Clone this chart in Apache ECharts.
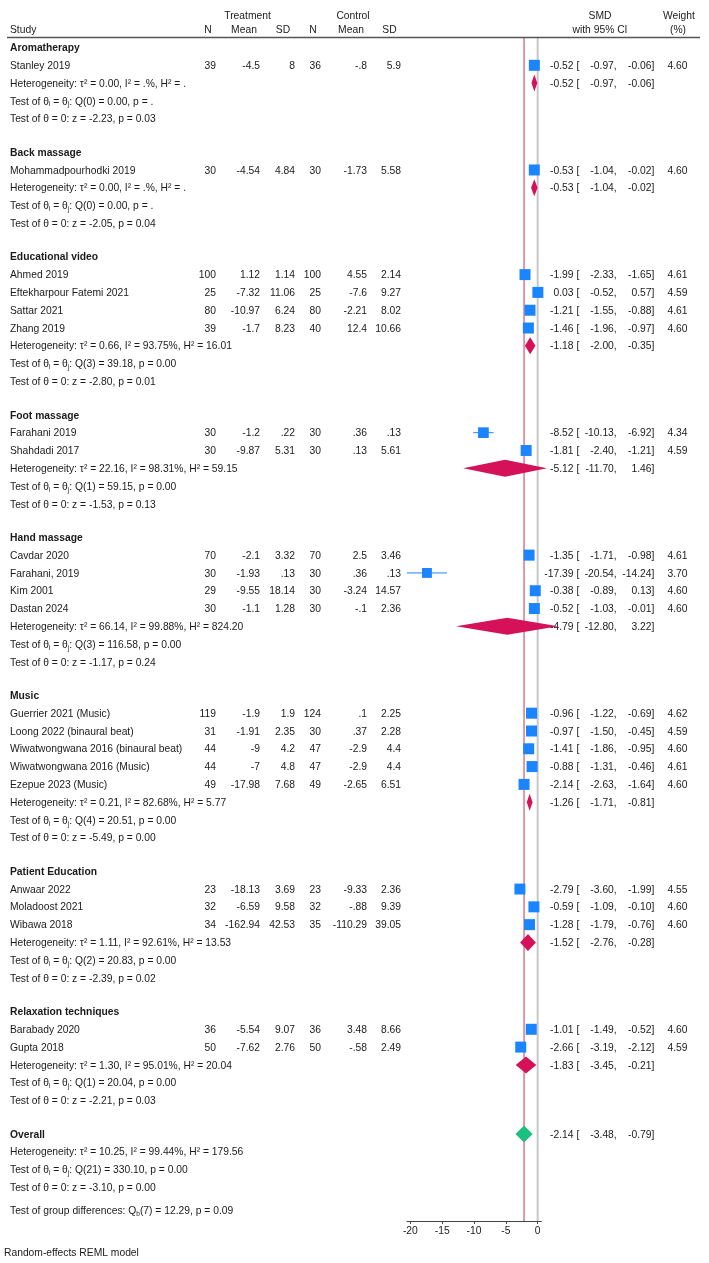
<!DOCTYPE html>
<html><head><meta charset="utf-8">
<script src="https://cdn.jsdelivr.net/npm/echarts@6/dist/echarts.min.js"></script>
<style>html,body{margin:0;padding:0;background:#fff}#c{width:709px;height:1263px}</style>
</head><body><div id="c"></div><script>
// ---------------- data ----------------
const groupNames = ['Aromatherapy','Back massage','Educational video','Foot massage','Hand massage','Music','Patient Education','Relaxation techniques'];
const studyNames = ['Stanley 2019','Mohammadpourhodki 2019','Ahmed 2019','Eftekharpour Fatemi 2021','Sattar 2021','Zhang 2019','Farahani 2019','Shahdadi 2017','Cavdar 2020','Farahani, 2019','Kim 2001','Dastan 2024','Guerrier 2021 (Music)','Loong 2022 (binaural beat)','Wiwatwongwana 2016 (binaural beat)','Wiwatwongwana 2016 (Music)','Ezepue 2023 (Music)','Anwaar 2022','Moladoost 2021','Wibawa 2018','Barabady 2020','Gupta 2018'];
const studyGroup = [0,1,2,2,2,2,3,3,4,4,4,4,5,5,5,5,5,6,6,6,7,7];
const treatN = ['39','30','100','25','80','39','30','30','70','30','29','30','119','31','44','44','49','23','32','34','36','50'];
const treatMean = ['-4.5','-4.54','1.12','-7.32','-10.97','-1.7','-1.2','-9.87','-2.1','-1.93','-9.55','-1.1','-1.9','-1.91','-9','-7','-17.98','-18.13','-6.59','-162.94','-5.54','-7.62'];
const treatSD = ['8','4.84','1.14','11.06','6.24','8.23','.22','5.31','3.32','.13','18.14','1.28','1.9','2.35','4.2','4.8','7.68','3.69','9.58','42.53','9.07','2.76'];
const ctrlN = ['36','30','100','25','80','40','30','30','70','30','30','30','124','30','47','47','49','23','32','35','36','50'];
const ctrlMean = ['-.8','-1.73','4.55','-7.6','-2.21','12.4','.36','.13','2.5','.36','-3.24','-.1','.1','.37','-2.9','-2.9','-2.65','-9.33','-.88','-110.29','3.48','-.58'];
const ctrlSD = ['5.9','5.58','2.14','9.27','8.02','10.66','.13','5.61','3.46','.13','14.57','2.36','2.25','2.28','4.4','4.4','6.51','2.36','9.39','39.05','8.66','2.49'];
const smd = [-0.52,-0.53,-1.99,0.03,-1.21,-1.46,-8.52,-1.81,-1.35,-17.39,-0.38,-0.52,-0.96,-0.97,-1.41,-0.88,-2.14,-2.79,-0.59,-1.28,-1.01,-2.66];
const ciLow = [-0.97,-1.04,-2.33,-0.52,-1.55,-1.96,-10.13,-2.40,-1.71,-20.54,-0.89,-1.03,-1.22,-1.50,-1.86,-1.31,-2.63,-3.60,-1.09,-1.79,-1.49,-3.19];
const ciHigh = [-0.06,-0.02,-1.65,0.57,-0.88,-0.97,-6.92,-1.21,-0.98,-14.24,0.13,-0.01,-0.69,-0.45,-0.95,-0.46,-1.64,-1.99,-0.10,-0.76,-0.52,-2.12];
const weight = [4.60,4.60,4.61,4.59,4.61,4.60,4.34,4.59,4.61,3.70,4.60,4.60,4.62,4.59,4.60,4.61,4.60,4.55,4.60,4.60,4.60,4.59];

const groupSmd = [-0.52,-0.53,-1.18,-5.12,-4.79,-1.26,-1.52,-1.83];
const groupLow = [-0.97,-1.04,-2.00,-11.70,-12.80,-1.71,-2.76,-3.45];
const groupHigh = [-0.06,-0.02,-0.35,1.46,3.22,-0.81,-0.28,-0.21];
const groupTau2 = ['0.00','0.00','0.66','22.16','66.14','0.21','1.11','1.30'];
const groupI2 = ['.','.','93.75','98.31','99.88','82.68','92.61','95.01'];
const groupH2 = ['.','.','16.01','59.15','824.20','5.77','13.53','20.04'];
const groupQdf = [0,0,3,1,3,4,2,1];
const groupQ = ['0.00','0.00','39.18','59.15','116.58','20.51','20.83','20.04'];
const groupQp = ['.','.','0.00','0.00','0.00','0.00','0.00','0.00'];
const groupZ = ['-2.23','-2.05','-2.80','-1.53','-1.17','-5.49','-2.39','-2.21'];
const groupZp = ['0.03','0.04','0.01','0.13','0.24','0.00','0.02','0.03'];

const overallEffect = [-2.14,-3.48,-0.79];
const overallHet = ['10.25','99.44','179.56'];
const overallQ = [21,'330.10','0.00'];
const overallZ = ['-3.10','0.00'];
const groupDiffTest = [7,'12.29','0.09'];
const xTicks = [-20,-15,-10,-5,0];

// ---------------- layout ----------------
const FF = '"Liberation Sans", Arial, Helvetica, sans-serif';
const FS = 10.3;
const TXT = '#1a1a1a';
const BLUE = '#1a85ff', CRIMSON = '#d41159', GREEN = '#1dbf80';
const COL = {study:10, tN:216, tMean:260, tSD:295, cN:321, cMean:367, cSD:401, es:573.5, br:576.5, lo:616.7, hi:654.3, w:687.5};
const ROW = {gap:1.88, diff:1.3, note:2.37, hdr1:-1.83, hdr2:-1.04};
const Y_MIN = -0.562, Y_MAX = 65.93;
const TEXT_DY = 0.8;
const RICH = { sub: {fontSize:6.5, fontFamily:FF, fill:TXT, verticalAlign:'bottom', lineHeight:13} };

function esCells(e,l,h){
  return [{x:COL.es,t:e.toFixed(2),a:'right'},{x:COL.br,t:'[',a:'left'},
          {x:COL.lo,t:l.toFixed(2)+',',a:'right'},{x:COL.hi,t:h.toFixed(2)+']',a:'right'}];
}
const hetTxt = (t,i,h)=>`Heterogeneity: τ² = ${t}, I² = ${i}%, H² = ${h}`;
const qTxt = (df,q,p)=>`Test of θ{sub|i} = θ{sub|j}: Q(${df}) = ${q}, p = ${p}`;
const zTxt = (z,p)=>`Test of θ = 0: z = ${z}, p = ${p}`;

const rows = [];
rows.push({pos:ROW.hdr1, cells:[{x:247.5,t:'Treatment',a:'center'},{x:353,t:'Control',a:'center'},{x:600,t:'SMD',a:'center'},{x:679,t:'Weight',a:'center'}]});
rows.push({pos:ROW.hdr2, cells:[{x:COL.study,t:'Study',a:'left'},{x:208,t:'N',a:'center'},{x:244,t:'Mean',a:'center'},{x:283,t:'SD',a:'center'},{x:313,t:'N',a:'center'},{x:351,t:'Mean',a:'center'},{x:389.5,t:'SD',a:'center'},{x:600,t:'with 95% CI',a:'center'},{x:678,t:'(%)',a:'center'}]});
const studyPos = [], groupPos = [];
let pos = 0;
groupNames.forEach((g,gi)=>{
  rows.push({pos, cells:[{x:COL.study,t:g,a:'left',b:true}]}); pos++;
  studyGroup.forEach((sg,i)=>{
    if (sg!==gi) return;
    studyPos[i] = pos;
    rows.push({pos, cells:[
      {x:COL.study,t:studyNames[i],a:'left'},
      {x:COL.tN,t:treatN[i],a:'right'},{x:COL.tMean,t:treatMean[i],a:'right'},{x:COL.tSD,t:treatSD[i],a:'right'},
      {x:COL.cN,t:ctrlN[i],a:'right'},{x:COL.cMean,t:ctrlMean[i],a:'right'},{x:COL.cSD,t:ctrlSD[i],a:'right'},
      ...esCells(smd[i],ciLow[i],ciHigh[i]),
      {x:COL.w,t:weight[i].toFixed(2),a:'right'}]});
    pos++;
  });
  groupPos[gi] = pos;
  rows.push({pos, cells:[{x:COL.study,t:hetTxt(groupTau2[gi],groupI2[gi],groupH2[gi]),a:'left'}, ...esCells(groupSmd[gi],groupLow[gi],groupHigh[gi])]}); pos++;
  rows.push({pos, cells:[{x:COL.study,t:qTxt(groupQdf[gi],groupQ[gi],groupQp[gi]),a:'left'}]}); pos++;
  rows.push({pos, cells:[{x:COL.study,t:zTxt(groupZ[gi],groupZp[gi]),a:'left'}]}); pos += ROW.gap;
});
const overallPos = pos;
rows.push({pos, cells:[{x:COL.study,t:'Overall',a:'left',b:true}, ...esCells(overallEffect[0],overallEffect[1],overallEffect[2])]}); pos++;
rows.push({pos, cells:[{x:COL.study,t:hetTxt(overallHet[0],overallHet[1],overallHet[2]),a:'left'}]}); pos++;
rows.push({pos, cells:[{x:COL.study,t:qTxt(overallQ[0],overallQ[1],overallQ[2]),a:'left'}]}); pos++;
rows.push({pos, cells:[{x:COL.study,t:zTxt(overallZ[0],overallZ[1]),a:'left'}]}); pos += ROW.diff;
rows.push({pos, cells:[{x:COL.study,t:`Test of group differences: Q{sub|b}(${groupDiffTest[0]}) = ${groupDiffTest[1]}, p = ${groupDiffTest[2]}`,a:'left'}]}); pos += ROW.note;
rows.push({pos, cells:[{x:4,t:'Random-effects REML model',a:'left'}]});

const xMin = Math.min(...ciLow), xMax = Math.max(...ciHigh);

const chart = echarts.init(document.getElementById('c'), null, {renderer:'canvas'});
chart.setOption({
  animation:false,
  backgroundColor:'#fff',
  grid:[
    {left:0, right:0, top:37.5, bottom:42},
    {left:406.9, right:167.7, top:37.5, bottom:42}
  ],
  xAxis:[
    {gridIndex:0, type:'value', min:0, max:709, show:false},
    {gridIndex:1, type:'value', min:xMin, max:xMax, position:'bottom',
     axisLine:{show:true, onZero:false, lineStyle:{color:'#444', width:1}},
     axisTick:{show:true, customValues:xTicks, length:3, lineStyle:{color:'#444'}},
     axisLabel:{show:true, customValues:xTicks, fontSize:FS, fontFamily:FF, color:TXT, margin:5},
     splitLine:{show:false}}
  ],
  yAxis:[
    {gridIndex:0, type:'value', inverse:true, min:Y_MIN, max:Y_MAX, show:false},
    {gridIndex:1, type:'value', inverse:true, min:Y_MIN, max:Y_MAX, show:false}
  ],
  graphic:[{type:'line', shape:{x1:7,y1:37.5,x2:700,y2:37.5}, style:{stroke:'#555', lineWidth:1.5}, z:10}],
  series:[
    { // reference lines
      type:'custom', xAxisIndex:1, yAxisIndex:1, z:1, silent:true,
      data:[[0,0],[overallEffect[0],1]],
      renderItem:(params, api)=>{
        const cs = params.coordSys;
        const x = api.coord([api.value(0), 0])[0];
        const isRef = api.value(1) === 1;
        return {type:'line', shape:{x1:x, y1:cs.y, x2:x, y2:cs.y+cs.height},
          style:{stroke: isRef ? '#c8344f' : '#c8c8c8', lineWidth: isRef ? 1 : 2}};
      }
    },
    { // text table
      type:'custom', xAxisIndex:0, yAxisIndex:0, z:2, silent:true,
      data: rows.map((r,i)=>[i, r.pos]),
      renderItem:(params, api)=>{
        const r = rows[params.dataIndex];
        return {type:'group', children: r.cells.map(c=>{
          const p = api.coord([c.x, r.pos]);
          return {type:'text', style:{text:c.t, x:p[0], y:p[1]+TEXT_DY, fill:TXT, fontSize:FS, fontFamily:FF,
            fontWeight:c.b?'bold':'normal', align:c.a, verticalAlign:'middle', lineHeight:13, rich:RICH}};
        })};
      }
    },
    { // CI lines
      type:'custom', xAxisIndex:1, yAxisIndex:1, z:3, silent:true,
      data: smd.map((v,i)=>[ciLow[i], ciHigh[i], studyPos[i]]),
      renderItem:(params, api)=>{
        const a = api.coord([api.value(0), api.value(2)]);
        const b = api.coord([api.value(1), api.value(2)]);
        return {type:'line', shape:{x1:a[0], y1:a[1], x2:b[0], y2:b[1]}, style:{stroke:BLUE, lineWidth:1}};
      }
    },
    { // study squares
      type:'scatter', xAxisIndex:1, yAxisIndex:1, z:4, silent:true,
      symbol:'rect',
      symbolSize:(v)=>5.13*Math.sqrt(v[2]),
      itemStyle:{color:BLUE, opacity:1},
      data: smd.map((v,i)=>[v, studyPos[i], weight[i]])
    },
    { // diamonds
      type:'custom', xAxisIndex:1, yAxisIndex:1, z:6, silent:true,
      data: groupSmd.map((v,g)=>[v, groupLow[g], groupHigh[g], groupPos[g], 0])
            .concat([[overallEffect[0], overallEffect[1], overallEffect[2], overallPos, 1]]),
      renderItem:(params, api)=>{
        const y = api.value(3);
        const c = api.coord([api.value(0), y]);
        const l = api.coord([api.value(1), y]);
        const r = api.coord([api.value(2), y]);
        const h = 8.5;
        return {type:'polygon', shape:{points:[[l[0],c[1]],[c[0],c[1]-h],[r[0],c[1]],[c[0],c[1]+h]]},
          style:{fill: api.value(4)===1 ? GREEN : CRIMSON}};
      }
    }
  ]
});
</script></body></html>
